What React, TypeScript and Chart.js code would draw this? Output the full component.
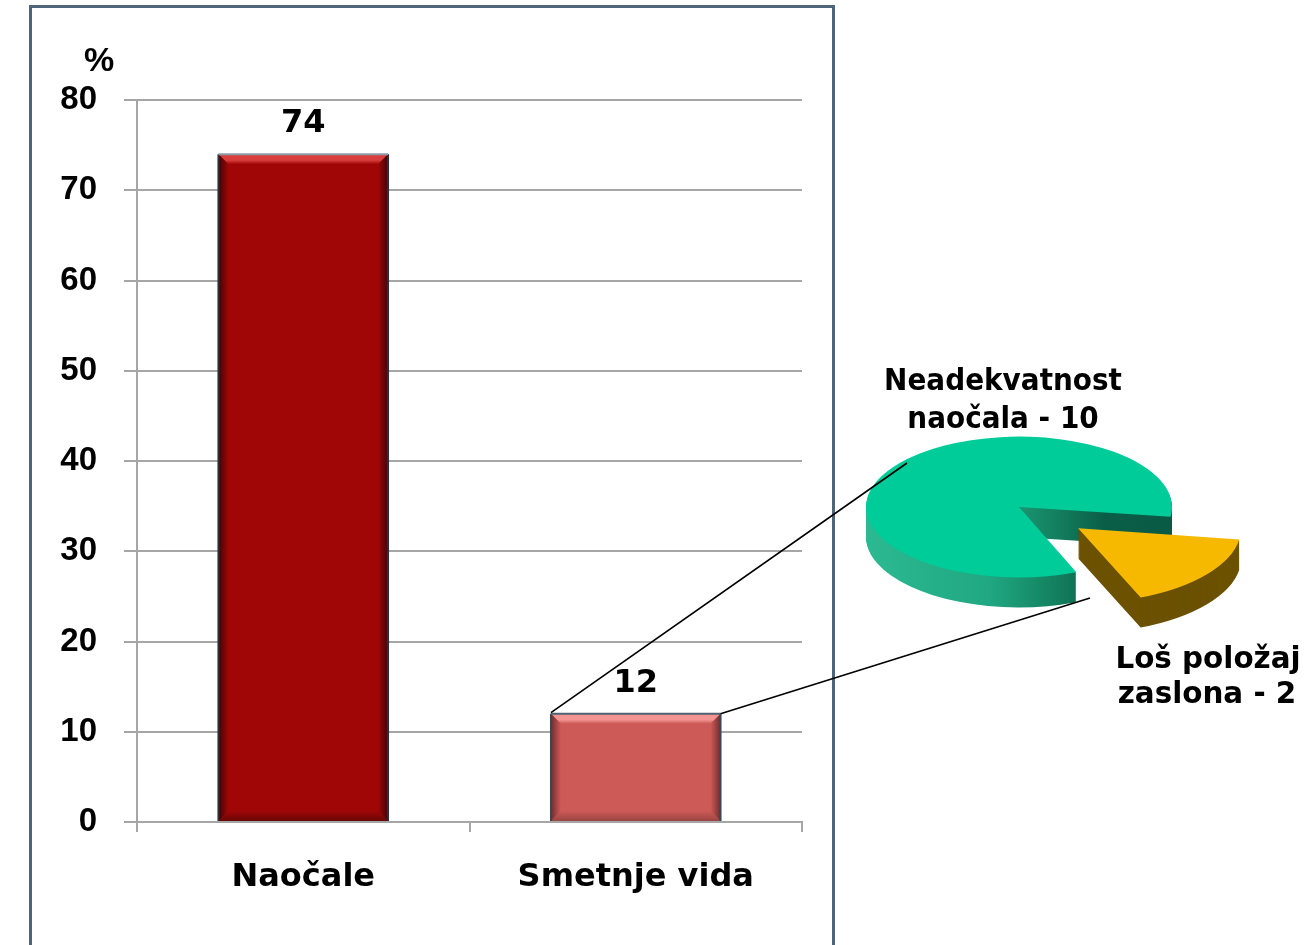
import React, { useEffect, useRef } from 'react';
import { Chart, registerables } from 'chart.js';

Chart.register(...registerables);

// ---- data ----
const barCategories = ['Naočale', 'Smetnje vida'];
const barValues = [74, 12];
const barColors = ['#A00606', '#CD5A57'];
const yMin = 0;
const yMax = 80;
const yStep = 10;
const yUnitLabel = '%';

const pieLabels = [
  ['Loš položaj', 'zaslona - 2'],
  ['Neadekvatnost', 'naočala - 10'],
];
const pieValues = [2, 10];
const pieTopColors = ['#F7B900', '#00CC99'];

// ---- styling constants ----
const GRID = '#a6a6a6';
const TILT = 0.46;
const DEPTH = 30;

function drawArcWith(arc: any, ctx: CanvasRenderingContext2D, fill: any) {
  const orig = arc.options;
  const o = Object.create(orig);
  Object.defineProperty(o, 'backgroundColor', { value: fill });
  Object.defineProperty(o, 'borderWidth', { value: 0 });
  arc.options = o;
  arc.draw(ctx);
  arc.options = orig;
}

function poly(ctx: CanvasRenderingContext2D, pts: number[][]) {
  ctx.beginPath();
  ctx.moveTo(pts[0][0], pts[0][1]);
  for (let i = 1; i < pts.length; i++) ctx.lineTo(pts[i][0], pts[i][1]);
  ctx.closePath();
  ctx.fill();
}

function squeezedText(ctx: CanvasRenderingContext2D, t: string, x: number, y: number, sx: number) {
  ctx.save();
  ctx.translate(x, y);
  ctx.scale(sx, 1);
  ctx.fillText(t, 0, 0);
  ctx.restore();
}

const bevelStyles = [
  { light: '#D83E3E', bottom: '#660707', dark: '#3e0508', edge: '#2c2f3c', top: '#8c9cab' },
  { light: '#F29592', bottom: '#9a4341', dark: '#6e2e2c', edge: '#3a4856', top: '#4d6272' },
];

const barDeco = {
  id: 'barDeco',
  afterDatasetsDraw(chart: any) {
    const ctx: CanvasRenderingContext2D = chart.ctx;
    const meta = chart.getDatasetMeta(0);
    meta.data.forEach((el: any, i: number) => {
      const { x, y, base, width } = el.getProps(['x', 'y', 'base', 'width'], true);
      const L = x - width / 2;
      const R = x + width / 2;
      const T = y;
      const B = base;
      const b = 10;
      const st = bevelStyles[i % bevelStyles.length];
      const main = barColors[i % barColors.length];
      ctx.save();
      // top bevel
      const tg = ctx.createLinearGradient(0, T, 0, T + b);
      tg.addColorStop(0, st.light);
      tg.addColorStop(0.6, st.light);
      tg.addColorStop(1, main);
      ctx.fillStyle = tg;
      poly(ctx, [[L, T], [R, T], [R - b, T + b], [L + b, T + b]]);
      // bottom bevel
      const bg = ctx.createLinearGradient(0, B - b, 0, B);
      bg.addColorStop(0, main);
      bg.addColorStop(1, st.bottom);
      ctx.fillStyle = bg;
      poly(ctx, [[L, B], [R, B], [R - b, B - b], [L + b, B - b]]);
      // left side
      const lg = ctx.createLinearGradient(L, 0, L + b, 0);
      lg.addColorStop(0, st.dark);
      lg.addColorStop(1, main);
      ctx.fillStyle = lg;
      poly(ctx, [[L, T], [L + b, T + b], [L + b, B - b], [L, B]]);
      // right side
      const rg = ctx.createLinearGradient(R - b, 0, R, 0);
      rg.addColorStop(0, main);
      rg.addColorStop(1, st.dark);
      ctx.fillStyle = rg;
      poly(ctx, [[R, T], [R - b, T + b], [R - b, B - b], [R, B]]);
      // outline
      ctx.lineWidth = 2;
      ctx.strokeStyle = st.edge;
      ctx.beginPath();
      ctx.moveTo(L, B);
      ctx.lineTo(L, T);
      ctx.moveTo(R, T);
      ctx.lineTo(R, B);
      ctx.stroke();
      ctx.strokeStyle = st.top;
      ctx.beginPath();
      ctx.moveTo(L, T);
      ctx.lineTo(R, T);
      ctx.stroke();
      // value label
      ctx.fillStyle = '#000';
      ctx.font = 'bold 32px "DejaVu Sans", sans-serif';
      ctx.textAlign = 'center';
      ctx.textBaseline = 'alphabetic';
      ctx.fillText(String(barValues[i]), x, T - 22);
      ctx.restore();
    });
  },
  afterDraw(chart: any) {
    const ctx: CanvasRenderingContext2D = chart.ctx;
    ctx.save();
    ctx.fillStyle = '#000';
    ctx.font = 'bold 34px "Liberation Sans", Arial, sans-serif';
    ctx.textAlign = 'center';
    ctx.textBaseline = 'alphabetic';
    ctx.fillText(yUnitLabel, chart.chartArea.left - 38, chart.chartArea.top - 29);
    ctx.restore();
  },
};

export default function App() {
  const barRef = useRef<HTMLCanvasElement>(null);
  const pieRef = useRef<HTMLCanvasElement>(null);

  useEffect(() => {
    if (!barRef.current || !pieRef.current) return;

    const bar = new Chart(barRef.current, {
      type: 'bar',
      data: {
        labels: barCategories,
        datasets: [
          {
            data: barValues,
            backgroundColor: barColors,
            borderWidth: 0,
            barPercentage: 0.51,
            categoryPercentage: 1,
          },
        ],
      },
      options: {
        responsive: false,
        animation: false,
        events: [],
        layout: { padding: { left: 0, right: 512, top: 100, bottom: 43 } },
        plugins: { legend: { display: false }, tooltip: { enabled: false } },
        scales: {
          x: {
            grid: { drawOnChartArea: false, drawTicks: true, tickLength: 10, color: GRID, lineWidth: 2 },
            border: { color: GRID, width: 2 },
            ticks: {
              color: '#000',
              font: { family: '"DejaVu Sans", sans-serif', weight: 'bold', size: 32 },
              padding: 26,
              maxRotation: 0,
            },
            afterFit: (s: any) => {
              s.height = 80;
            },
          },
          y: {
            min: yMin,
            max: yMax,
            ticks: {
              stepSize: yStep,
              color: '#000',
              font: { family: '"Liberation Sans", Arial, sans-serif', weight: 'bold', size: 33 },
              padding: 27,
            },
            grid: { color: GRID, lineWidth: 2, tickLength: 13 },
            border: { color: GRID, width: 2 },
            afterFit: (s: any) => {
              s.width = 137;
            },
          },
        },
      } as any,
      plugins: [barDeco],
    });

    const PIE_LEFT = 500;
    const PIE_TOP = 300;

    const pie3d = {
      id: 'pie3d',
      beforeDatasetsDraw(chart: any) {
        const ctx: CanvasRenderingContext2D = chart.ctx;
        const arcs = chart.getDatasetMeta(0).data;
        const cx = arcs[0].x;
        const cy = arcs[0].y;
        const r = arcs[1].outerRadius;
        const tealSide = ctx.createLinearGradient(cx - r, 0, cx + r, 0);
        tealSide.addColorStop(0, '#2cb992');
        tealSide.addColorStop(0.4, '#20a882');
        tealSide.addColorStop(0.62, '#13805f');
        tealSide.addColorStop(0.78, '#0a5e47');
        tealSide.addColorStop(1, '#0a5a45');
        const sides = ['#6b5100', tealSide];
        for (let k = DEPTH; k >= 1; k--) {
          ctx.save();
          ctx.translate(cx, cy + k);
          ctx.scale(1, TILT);
          ctx.translate(-cx, -cy);
          [1, 0].forEach((i) => drawArcWith(arcs[i], ctx, sides[i]));
          ctx.restore();
        }
        ctx.save();
        ctx.translate(cx, cy);
        ctx.scale(1, TILT);
        ctx.translate(-cx, -cy);
      },
      afterDatasetsDraw(chart: any) {
        const ctx: CanvasRenderingContext2D = chart.ctx;
        ctx.restore();
        const arcs = chart.getDatasetMeta(0).data;
        const cx = arcs[0].x;
        const cy = arcs[0].y;
        ctx.save();
        // connector lines from the small bar to the pie
        const b2 = bar.getDatasetMeta(0).data[1] as any;
        const { x, y, width } = b2.getProps(['x', 'y', 'width'], true);
        ctx.strokeStyle = '#000';
        ctx.lineWidth = 1.6;
        ctx.beginPath();
        ctx.moveTo(x - width / 2 - PIE_LEFT, y - PIE_TOP - 1);
        ctx.lineTo(cx - 112, cy - 44);
        ctx.moveTo(x + width / 2 - PIE_LEFT, y - PIE_TOP);
        ctx.lineTo(cx + 71, cy + 91);
        ctx.stroke();
        // labels
        ctx.fillStyle = '#000';
        ctx.font = 'bold 30px "DejaVu Sans", sans-serif';
        ctx.textAlign = 'center';
        ctx.textBaseline = 'alphabetic';
        const big = pieLabels[1];
        squeezedText(ctx, big[0], cx - 16, cy - 117, 0.93);
        squeezedText(ctx, big[1], cx - 16, cy - 79, 0.93);
        const small = pieLabels[0];
        squeezedText(ctx, small[0], cx + 189, cy + 161, 0.98);
        squeezedText(ctx, small[1], cx + 188, cy + 196, 0.98);
        ctx.restore();
      },
    };

    const pie = new Chart(pieRef.current, {
      type: 'pie',
      data: {
        labels: pieLabels.map((l) => l.join(' ')),
        datasets: [
          {
            data: pieValues,
            backgroundColor: pieTopColors,
            borderWidth: 0,
            offset: [300, 0],
            hoverOffset: 0,
            rotation: 98,
            radius: 153,
            clip: false,
          } as any,
        ],
      },
      options: {
        responsive: false,
        animation: false,
        events: [],
        layout: { padding: { left: 300, right: 76, top: 0, bottom: 86 } },
        plugins: { legend: { display: false }, tooltip: { enabled: false } },
      } as any,
      plugins: [pie3d],
    });

    return () => {
      pie.destroy();
      bar.destroy();
    };
  }, []);

  return (
    <div style={{ position: 'absolute', left: 0, top: 0, width: 1314, height: 945, overflow: 'hidden', background: '#fff' }}>
      <canvas ref={barRef} width={1314} height={945} style={{ position: 'absolute', left: 0, top: 0, display: 'block' }} />
      <div
        style={{
          position: 'absolute',
          left: 29,
          top: 5,
          width: 806,
          height: 945,
          boxSizing: 'border-box',
          borderTop: '3px solid #4f6579',
          borderLeft: '3px solid #4f6579',
          borderRight: '3px solid #4f6579',
          pointerEvents: 'none',
        }}
      />
      <canvas ref={pieRef} width={814} height={500} style={{ position: 'absolute', left: 500, top: 300, display: 'block' }} />
    </div>
  );
}
